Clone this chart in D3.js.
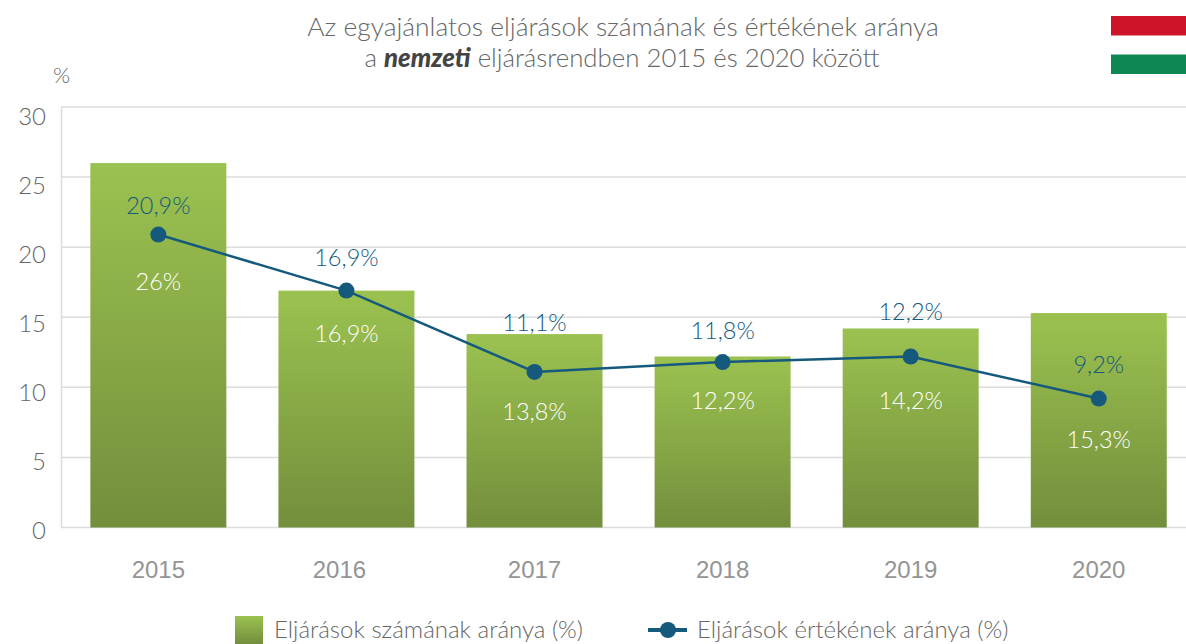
<!DOCTYPE html>
<html>
<head>
<meta charset="utf-8">
<script src="https://cdn.jsdelivr.net/npm/d3@7"></script>
<style>
    html, body { margin: 0; padding: 0; background: #fff; }
    svg { display: block; }
    text { font-family: Lato, sans-serif; font-weight: 300; }
    .year { font-family: "Liberation Sans", sans-serif; font-weight: 400; }
</style>
</head>
<body>
<div id="chart"></div>
<script>
const years = ["2015", "2016", "2017", "2018", "2019", "2020"];
const countShare = [26, 16.9, 13.8, 12.2, 14.2, 15.3];
const valueShare = [20.9, 16.9, 11.1, 11.8, 12.2, 9.2];
const countLabels = ["26%", "16,9%", "13,8%", "12,2%", "14,2%", "15,3%"];
const valueLabels = ["20,9%", "16,9%", "11,1%", "11,8%", "12,2%", "9,2%"];
const yTicks = [0, 5, 10, 15, 20, 25, 30];

const width = 1186, height = 644;
const GREEN_TOP = "#9bc250", GREEN_BOTTOM = "#738e3c", BLUE = "#15597d";

// label nudges
const valueLabelDy = [-30, -34, -50, -32, -45, -35];
const countLabelDy = [46, 42, 39, 38, 44, 40];
const yearLabelDx = [0, -7, 0, 0, 0, 0];

const svg = d3.select("#chart").append("svg")
    .attr("width", width)
    .attr("height", height);

const x = d3.scaleBand().domain(years).range([64.3, 1192.8]).paddingInner(0.277).paddingOuter(0.1385);
const y = d3.scaleLinear().domain([0, 30]).range([527.5, 107]);
const yLabel = d3.scaleLinear().domain([0, 30]).range([529.5, 115]); // tick labels drift from the gridlines
const cx = d => x(d) + x.bandwidth() / 2;

// each bar gets the full gradient, top to bottom
const grad = svg.append("defs").append("linearGradient")
    .attr("id", "barFill")
    .attr("x1", 0).attr("x2", 0).attr("y1", 0).attr("y2", 1);
grad.append("stop").attr("offset", 0).attr("stop-color", GREEN_TOP);
grad.append("stop").attr("offset", 1).attr("stop-color", GREEN_BOTTOM);

// title
const title = svg.append("text")
    .attr("text-anchor", "middle")
    .attr("fill", "#666")
    .style("font-size", "26.4px");
title.append("tspan").attr("x", 623).attr("y", 35.5).text("Az egyajánlatos eljárások számának és értékének aránya");
const line2 = title.append("tspan").attr("x", 622).attr("y", 67).style("font-size", "25.8px");
line2.append("tspan").text("a ");
line2.append("tspan").attr("fill", "#444").style("font-weight", 900).style("font-style", "italic").text("nemzeti");
line2.append("tspan").text(" eljárásrendben 2015 és 2020 között");

// flag
svg.append("rect").attr("x", 1111).attr("y", 16).attr("width", 75).attr("height", 19.5).attr("fill", "#ce1429");
svg.append("rect").attr("x", 1111).attr("y", 54.5).attr("width", 75).attr("height", 19.5).attr("fill", "#0d8754");

svg.append("text").attr("x", 53).attr("y", 83).attr("fill", "#666").style("font-size", "22px").text("%");

// grid
svg.append("g").selectAll("line")
    .data(yTicks)
    .enter().append("line")
    .attr("x1", 61).attr("x2", width)
    .attr("y1", d => y(d)).attr("y2", d => y(d))
    .attr("stroke", "#dcdcdc").attr("stroke-width", 1.5);
svg.append("line")
    .attr("x1", 61.5).attr("x2", 61.5).attr("y1", y(30)).attr("y2", y(0))
    .attr("stroke", "#dcdcdc").attr("stroke-width", 1.5);

svg.append("g").selectAll("text")
    .data(yTicks)
    .enter().append("text")
    .attr("x", 46).attr("y", d => yLabel(d))
    .attr("text-anchor", "end").attr("dominant-baseline", "central")
    .attr("fill", "#666").style("font-size", "24px")
    .text(d => d);

// bars
svg.append("g").selectAll("rect")
    .data(years)
    .enter().append("rect")
    .attr("x", d => x(d))
    .attr("y", (d, i) => y(countShare[i]))
    .attr("width", x.bandwidth())
    .attr("height", (d, i) => y(0) - y(countShare[i]))
    .attr("fill", "url(#barFill)");

svg.append("g").selectAll("text")
    .data(years)
    .enter().append("text")
    .attr("class", "year")
    .attr("x", (d, i) => cx(d) + yearLabelDx[i]).attr("y", 569)
    .attr("text-anchor", "middle").attr("dominant-baseline", "central")
    .attr("fill", "#949494").style("font-size", "24px")
    .text(d => d);

// line
const line = d3.line().x((d, i) => cx(years[i])).y(d => y(d));
svg.append("path")
    .attr("d", line(valueShare))
    .attr("fill", "none").attr("stroke", BLUE).attr("stroke-width", 2.5);
svg.append("g").selectAll("circle")
    .data(valueShare)
    .enter().append("circle")
    .attr("cx", (d, i) => cx(years[i]))
    .attr("cy", d => y(d))
    .attr("r", 8).attr("fill", BLUE);

// point labels
svg.append("g").selectAll("text")
    .data(valueLabels)
    .enter().append("text")
    .attr("x", (d, i) => cx(years[i]))
    .attr("y", (d, i) => y(valueShare[i]) + valueLabelDy[i])
    .attr("text-anchor", "middle").attr("dominant-baseline", "central")
    .attr("fill", BLUE).style("font-size", "23.5px")
    .text(d => d);
svg.append("g").selectAll("text")
    .data(countLabels)
    .enter().append("text")
    .attr("x", (d, i) => cx(years[i]))
    .attr("y", (d, i) => y(valueShare[i]) + countLabelDy[i])
    .attr("text-anchor", "middle").attr("dominant-baseline", "central")
    .attr("fill", "#fff").style("font-size", "23.5px")
    .text(d => d);

// legend
svg.append("rect").attr("x", 235).attr("y", 616).attr("width", 28).attr("height", 28).attr("fill", "url(#barFill)");
svg.append("text").attr("x", 274).attr("y", 638).attr("fill", "#666").style("font-size", "24px")
    .text("Eljárások számának aránya (%)");
svg.append("line").attr("x1", 648).attr("x2", 687).attr("y1", 630).attr("y2", 630)
    .attr("stroke", BLUE).attr("stroke-width", 4);
svg.append("circle").attr("cx", 668).attr("cy", 630).attr("r", 8).attr("fill", BLUE);
svg.append("text").attr("x", 697).attr("y", 638).attr("fill", "#666").style("font-size", "24px")
    .text("Eljárások értékének aránya (%)");
</script>
</body>
</html>
